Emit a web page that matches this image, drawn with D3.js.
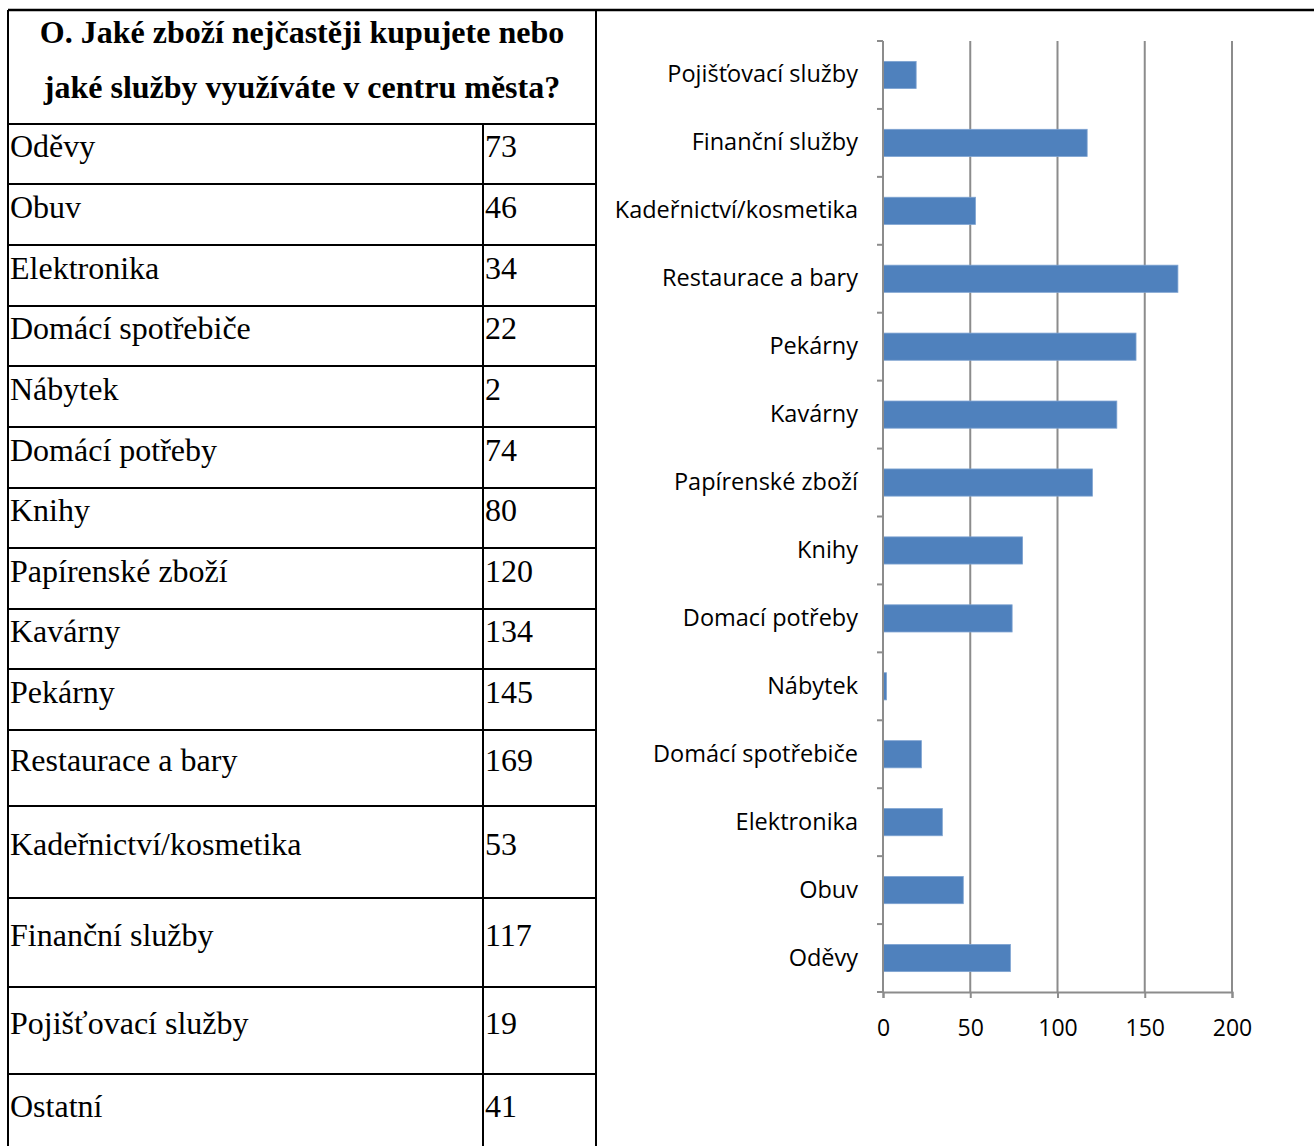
<!DOCTYPE html>
<html>
<head>
<meta charset="utf-8">
<script src="https://cdn.jsdelivr.net/npm/d3@7"></script>
<style>
  body { margin: 0; background: #fff; }
</style>
</head>
<body>
<div id="chart"></div>
<script>
// table rows (in table order)
var tableNames = ["Oděvy", "Obuv", "Elektronika", "Domácí spotřebiče", "Nábytek",
  "Domácí potřeby", "Knihy", "Papírenské zboží", "Kavárny", "Pekárny",
  "Restaurace a bary", "Kadeřnictví/kosmetika", "Finanční služby",
  "Pojišťovací služby", "Ostatní"];
var tableValues = [73, 46, 34, 22, 2, 74, 80, 120, 134, 145, 169, 53, 117, 19, 41];

// bar chart (bottom to top)
var chartLabels = ["Oděvy", "Obuv", "Elektronika", "Domácí spotřebiče", "Nábytek",
  "Domací potřeby", "Knihy", "Papírenské zboží", "Kavárny", "Pekárny",
  "Restaurace a bary", "Kadeřnictví/kosmetika", "Finanční služby", "Pojišťovací služby"];
var chartValues = [73, 46, 34, 22, 2, 74, 80, 120, 134, 145, 169, 53, 117, 19];
var xTicks = [0, 50, 100, 150, 200];

var titleLines = ["O. Jaké zboží nejčastěji kupujete nebo",
  "jaké služby využíváte v centru města?"];

var W = 1314, H = 1146;
var svg = d3.select("#chart").append("svg")
    .attr("width", W)
    .attr("height", H);

// ---- table ----
var tLeft = 8, tMid = 483, tRight = 596, tTop = 10, headH = 114;
var rowHeights = [60, 61, 61, 60, 61, 61, 60, 61, 60, 61, 76, 92, 89, 87, 80];
var rowTops = [];
var acc = tTop + headH;
rowHeights.forEach(function(h) { rowTops.push(acc); acc += h; });

var serif = "'Liberation Serif', 'Times New Roman', serif";
var table = svg.append("g").attr("class", "table");

table.selectAll(".title")
    .data(titleLines)
  .enter().append("text")
    .attr("class", "title")
    .attr("x", (tLeft + tRight) / 2)
    .attr("y", function(d, i) { return 43 + i * 55; })
    .attr("text-anchor", "middle")
    .style("font-family", serif)
    .style("font-weight", "bold")
    .style("font-size", "32px")
    .text(function(d) { return d; });

var rows = table.selectAll(".row")
    .data(tableNames)
  .enter().append("g")
    .attr("class", "row")
    .attr("transform", function(d, i) { return "translate(0," + rowTops[i] + ")"; });

rows.append("text")
    .attr("x", tLeft + 2)
    .attr("y", function(d, i) { return rowHeights[i] / 2 + 3; })
    .style("font-family", serif)
    .style("font-size", "32px")
    .text(function(d) { return d; });

rows.append("text")
    .attr("x", tMid + 2)
    .attr("y", function(d, i) { return rowHeights[i] / 2 + 3; })
    .style("font-family", serif)
    .style("font-size", "32px")
    .text(function(d, i) { return tableValues[i]; });

// grid lines of the table
table.selectAll(".hline")
    .data(rowTops)
  .enter().append("line")
    .attr("x1", tLeft).attr("x2", tRight)
    .attr("y1", function(d) { return d; })
    .attr("y2", function(d) { return d; })
    .attr("stroke", "#000").attr("stroke-width", 2);

table.append("line")
    .attr("x1", tLeft).attr("x2", W)
    .attr("y1", tTop).attr("y2", tTop)
    .attr("stroke", "#000").attr("stroke-width", 2.5);
[tLeft, tRight].forEach(function(x) {
  table.append("line")
      .attr("x1", x).attr("x2", x)
      .attr("y1", tTop).attr("y2", H)
      .attr("stroke", "#000").attr("stroke-width", 2);
});
table.append("line")
    .attr("x1", tMid).attr("x2", tMid)
    .attr("y1", tTop + headH).attr("y2", H)
    .attr("stroke", "#000").attr("stroke-width", 2);

// ---- bar chart ----
var cLeft = 883, cRight = 1232, cTop = 41, cBottom = 992;
var x = d3.scaleLinear().domain([0, 200]).range([cLeft, cRight]);
var y = d3.scaleBand()
    .domain(chartLabels)
    .range([cBottom, cTop])
    .paddingInner(0.6)
    .paddingOuter(0.3);
var yb = d3.scaleBand().domain(chartLabels).range([cBottom, cTop]);

var chart = svg.append("g").attr("class", "chart");
var gray = "#8c8c8c";
var sans = "'Open Sans', sans-serif";

// vertical gridlines
chart.selectAll(".grid")
    .data(xTicks.slice(1))
  .enter().append("line")
    .attr("class", "grid")
    .attr("x1", function(d) { return x(d); })
    .attr("x2", function(d) { return x(d); })
    .attr("y1", cTop).attr("y2", cBottom)
    .attr("stroke", gray).attr("stroke-width", 2);

// bars
chart.selectAll(".bar")
    .data(chartValues)
  .enter().append("rect")
    .attr("class", "bar")
    .attr("x", x(0))
    .attr("y", function(d, i) { return y(chartLabels[i]); })
    .attr("width", function(d) { return x(d) - x(0); })
    .attr("height", y.bandwidth())
    .attr("fill", "#4f81bd")
    .attr("stroke", "#7ea3d1")
    .attr("stroke-width", 0.8);

// x axis
var xAxis = chart.append("g")
    .attr("transform", "translate(0," + cBottom + ")")
    .call(d3.axisBottom(x).tickValues(xTicks).tickSize(6).tickPadding(22).tickFormat(d3.format("d")));
xAxis.select(".domain").attr("stroke", gray).attr("stroke-width", 2);
xAxis.selectAll(".tick line").attr("stroke", gray).attr("stroke-width", 2);
xAxis.selectAll(".tick text")
    .style("font-family", sans)
    .style("font-size", "23px")
    .attr("fill", "#000");

// y axis
var yAxis = chart.append("g")
    .attr("transform", "translate(" + cLeft + ",0)")
    .call(d3.axisLeft(yb).tickSize(0).tickPadding(25));
yAxis.select(".domain").attr("stroke", gray).attr("stroke-width", 2)
    .attr("d", "M0," + cTop + "V" + cBottom);
yAxis.selectAll(".tick text")
    .style("font-family", sans)
    .style("font-size", "23.5px")
    .attr("fill", "#000");

// category boundary ticks
chart.selectAll(".ctick")
    .data(d3.range(chartLabels.length + 1))
  .enter().append("line")
    .attr("x1", cLeft - 6).attr("x2", cLeft)
    .attr("y1", function(i) { return cBottom - i * yb.step(); })
    .attr("y2", function(i) { return cBottom - i * yb.step(); })
    .attr("stroke", gray).attr("stroke-width", 2);
</script>
</body>
</html>
